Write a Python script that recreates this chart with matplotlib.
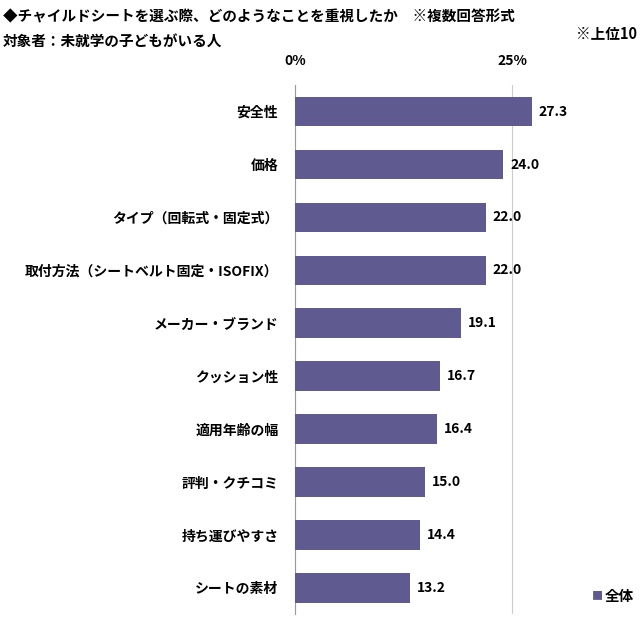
import matplotlib
matplotlib.use("Agg")
import matplotlib.pyplot as plt

plt.rcParams['font.family'] = ['Noto Sans CJK JP', 'DejaVu Sans']

categories = ["安全性", "価格", "タイプ（回転式・固定式）", "取付方法（シートベルト固定・ISOFIX）",
              "メーカー・ブランド", "クッション性", "適用年齢の幅", "評判・クチコミ",
              "持ち運びやすさ", "シートの素材"]
values = [27.3, 24.0, 22.0, 22.0, 19.1, 16.7, 16.4, 15.0, 14.4, 13.2]
xticks = [0, 25]
xticklabels = ["0%", "25%"]

fig = plt.figure(figsize=(6.4, 6.4), dpi=100)
ax = fig.add_axes([0.461, 0.04, 0.5425, 0.827])
y = list(range(len(categories)))
ax.barh(y, values, height=0.56, color="#5f5b90", zorder=3)
for yi, v in zip(y, values):
    ax.text(v + 0.8, yi, f"{v:.1f}", va="center", ha="left", fontsize=10, fontweight="bold")
ax.set_yticks(y)
ax.set_yticklabels(categories, fontsize=10, fontweight="bold")
ax.set_ylim(len(categories) - 0.5, -0.5)
ax.xaxis.tick_top()
ax.set_xticks(xticks)
ax.set_xticklabels(xticklabels, fontsize=10, fontweight="bold")
ax.set_xlim(0, 40)
ax.tick_params(length=0, pad=12)
ax.tick_params(axis='y', pad=12)
ax.grid(axis='x', color="#cccccc", lw=0.8, zorder=0)
for s in ["top", "right", "bottom"]:
    ax.spines[s].set_visible(False)
ax.spines["left"].set_color("#999999")

fig.text(0.005, 0.975, "◆チャイルドシートを選ぶ際、どのようなことを重視したか　※複数回答形式",
         fontsize=10.5, fontweight="bold", va="center")
fig.text(0.005, 0.937, "対象者：未就学の子どもがいる人", fontsize=10.5, fontweight="bold", va="center")
fig.text(0.995, 0.947, "※上位10", fontsize=10.5, fontweight="bold", va="center", ha="right")
fig.text(0.925, 0.068, "■", fontsize=8, color="#5f5b90", va="center")
fig.text(0.945, 0.068, "全体", fontsize=10.5, fontweight="bold", va="center")

fig.savefig("out.png", dpi=100)
